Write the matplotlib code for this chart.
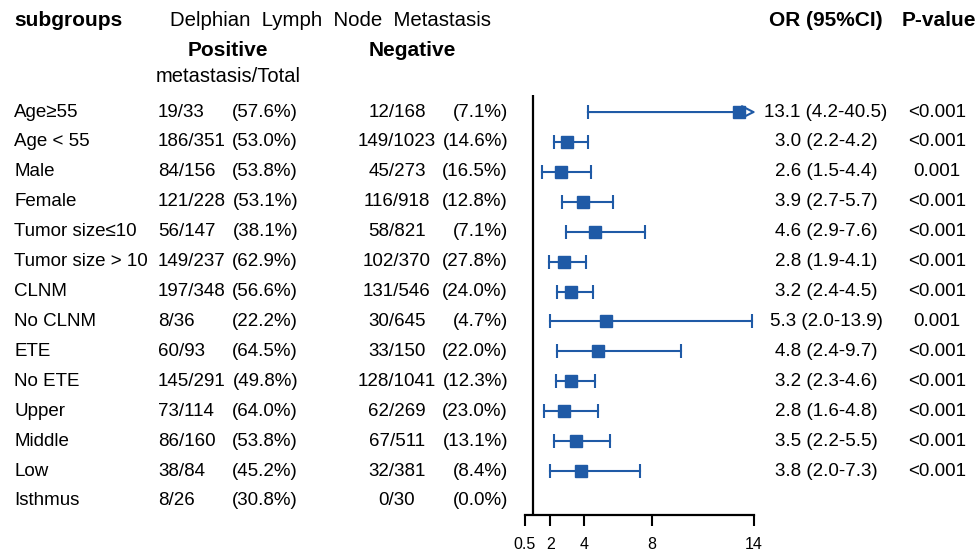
import matplotlib
matplotlib.use("Agg")
import matplotlib.pyplot as plt
from matplotlib import transforms

plt.rcParams['font.family'] = ['Liberation Sans', 'DejaVu Sans']

# ---------------- data ----------------
subgroups = ["Age≥55", "Age < 55", "Male", "Female", "Tumor size≤10",
             "Tumor size > 10", "CLNM", "No CLNM", "ETE", "No ETE",
             "Upper", "Middle", "Low", "Isthmus"]
pos_n = [19, 186, 84, 121, 56, 149, 197, 8, 60, 145, 73, 86, 38, 8]
pos_total = [33, 351, 156, 228, 147, 237, 348, 36, 93, 291, 114, 160, 84, 26]
pos_pct = ["57.6", "53.0", "53.8", "53.1", "38.1", "62.9", "56.6", "22.2",
           "64.5", "49.8", "64.0", "53.8", "45.2", "30.8"]
neg_n = [12, 149, 45, 116, 58, 102, 131, 30, 33, 128, 62, 67, 32, 0]
neg_total = [168, 1023, 273, 918, 821, 370, 546, 645, 150, 1041, 269, 511, 381, 30]
neg_pct = ["7.1", "14.6", "16.5", "12.8", "7.1", "27.8", "24.0", "4.7",
           "22.0", "12.3", "23.0", "13.1", "8.4", "0.0"]
or_val = [13.1, 3.0, 2.6, 3.9, 4.6, 2.8, 3.2, 5.3, 4.8, 3.2, 2.8, 3.5, 3.8, None]
ci_lo = [4.2, 2.2, 1.5, 2.7, 2.9, 1.9, 2.4, 2.0, 2.4, 2.3, 1.6, 2.2, 2.0, None]
ci_hi = [40.5, 4.2, 4.4, 5.7, 7.6, 4.1, 4.5, 13.9, 9.7, 4.6, 4.8, 5.5, 7.3, None]
p_values = ["<0.001", "<0.001", "0.001", "<0.001", "<0.001", "<0.001", "<0.001",
            "0.001", "<0.001", "<0.001", "<0.001", "<0.001", "<0.001", ""]
x_ticks = [0.5, 2, 4, 8, 14]
x_ticklabels = ["0.5", "2", "4", "8", "14"]

# ---------------- layout ----------------
W, H = 977, 554
BLUE = '#1f5aa6'
fig = plt.figure(figsize=(W / 100, H / 100), dpi=100)
ax = fig.add_axes([525 / W, 1 - 515 / H, (754 - 525) / W, (515 - 95) / H])
xmin, xmax = 0.5, 14
ax.set_xlim(xmin, xmax)
ax.set_ylim(13.47, -0.57)

for s in ['top', 'right', 'left']:
    ax.spines[s].set_visible(False)
ax.spines['bottom'].set_linewidth(1.6)
ax.set_yticks([])
ax.set_xticks(x_ticks)
ax.set_xticklabels(x_ticklabels)
ax.tick_params(axis='x', length=8, width=1.5, labelsize=11.5, pad=8)
ax.axvline(1, color='black', lw=1.6)

for i, (o, lo, hi) in enumerate(zip(or_val, ci_lo, ci_hi)):
    if o is None:
        continue
    if hi > xmax:
        ax.annotate('', xy=(xmax + 0.1, i), xytext=(lo, i),
                    arrowprops=dict(arrowstyle='-|>,head_length=0.55,head_width=0.28',
                                    ec=BLUE, fc='white', lw=1.5,
                                    shrinkA=0, shrinkB=0, mutation_scale=15),
                    annotation_clip=False)
        ax.plot([lo], [i], marker='|', ms=9.5, mew=1.5, color=BLUE)
    else:
        ax.plot([lo, hi], [i, i], color=BLUE, lw=1.5)
        ax.plot([lo, hi], [i, i], ls='none', marker='|', ms=9.5, mew=1.5, color=BLUE)
    ax.plot([o], [i], marker='s', ms=8.5, color=BLUE, zorder=5)

# ---------------- text table ----------------
tr = transforms.blended_transform_factory(fig.transFigure, ax.transData)
fs = 13.5


def fx(px):
    return px / W


for i, name in enumerate(subgroups):
    fig.text(fx(14), i, name, transform=tr, ha='left', va='center', fontsize=fs)
    fig.text(fx(158), i, f"{pos_n[i]}/{pos_total[i]}", transform=tr,
             ha='left', va='center', fontsize=fs)
    fig.text(fx(298), i, f"({pos_pct[i]}%)", transform=tr,
             ha='right', va='center', fontsize=fs)
    fig.text(fx(397), i, f"{neg_n[i]}/{neg_total[i]}", transform=tr,
             ha='center', va='center', fontsize=fs)
    fig.text(fx(508), i, f"({neg_pct[i]}%)", transform=tr,
             ha='right', va='center', fontsize=fs)
    if or_val[i] is not None:
        fig.text(fx(826), i, f"{or_val[i]:.1f} ({ci_lo[i]:.1f}-{ci_hi[i]:.1f})",
                 transform=tr, ha='center', va='center', fontsize=fs)
        fig.text(fx(937), i, p_values[i], transform=tr,
                 ha='center', va='center', fontsize=fs)


def fy(py):
    return 1 - py / H


fig.text(fx(14), fy(21), "subgroups", ha='left', va='center', fontsize=15, fontweight='bold')
fig.text(fx(170), fy(21), "Delphian  Lymph  Node  Metastasis", ha='left', va='center',
         fontsize=14.7)
fig.text(fx(228), fy(51), "Positive", ha='center', va='center', fontsize=15, fontweight='bold')
fig.text(fx(412), fy(51), "Negative", ha='center', va='center', fontsize=15, fontweight='bold')
fig.text(fx(228), fy(77), "metastasis/Total", ha='center', va='center', fontsize=14.5)
fig.text(fx(769), fy(21), "OR (95%CI)", ha='left', va='center', fontsize=15, fontweight='bold')
fig.text(fx(902), fy(21), "P-value", ha='left', va='center', fontsize=15, fontweight='bold')

fig.savefig("out.png", dpi=100)
